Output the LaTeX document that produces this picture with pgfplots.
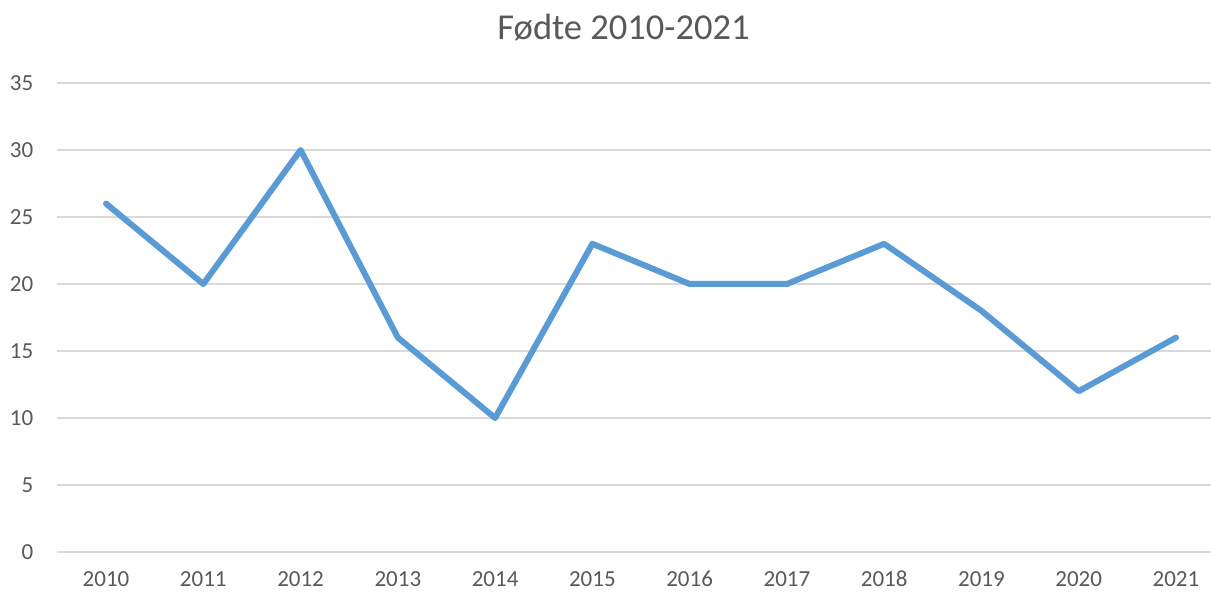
\documentclass[border=0pt]{standalone}
\usepackage{fontspec}
\setmainfont{Carlito}
\usepackage{pgfplots}
\pgfplotsset{compat=1.18}
\definecolor{lineblue}{HTML}{5B9BD5}
\definecolor{txtgray}{HTML}{595959}
\definecolor{gridgray}{HTML}{D9D9D9}
\begin{document}
\begin{tikzpicture}
\useasboundingbox (0,0) rectangle (1211bp,592bp);
\begin{axis}[
  at={(57.4bp,40bp)}, anchor=south west,
  scale only axis,
  width=1153.6bp, height=469bp,
  xmin=-0.5, xmax=11.36,
  ymin=0, ymax=35,
  ytick={0,5,...,35},
  xtick={0,...,11},
  xticklabels={2010,2011,2012,2013,2014,2015,2016,2017,2018,2019,2020,2021},
  ymajorgrids,
  grid style={gridgray, line width=1.6bp},
  axis line style={draw=none},
  major tick length=0pt,
  tick label style={font=\fontsize{23bp}{23bp}\selectfont, text=txtgray, inner sep=0pt},
  yticklabel style={anchor=east, xshift=-24bp},
  xticklabel style={anchor=north, yshift=-19bp},
  /pgf/number format/assume math mode=true,
  clip=false,
]
\addplot[lineblue, line width=6bp, line join=round, line cap=round] coordinates {
  (0,26) (1,20) (2,30) (3,16) (4,10) (5,23) (6,20) (7,20) (8,23) (9,18) (10,12) (11,16)
};
\end{axis}
\node[anchor=base, text=txtgray, font=\fontsize{36.5bp}{36.5bp}\selectfont, inner sep=0pt] at (623.5bp,552bp) {Fødte 2010-2021};
\end{tikzpicture}
\end{document}
